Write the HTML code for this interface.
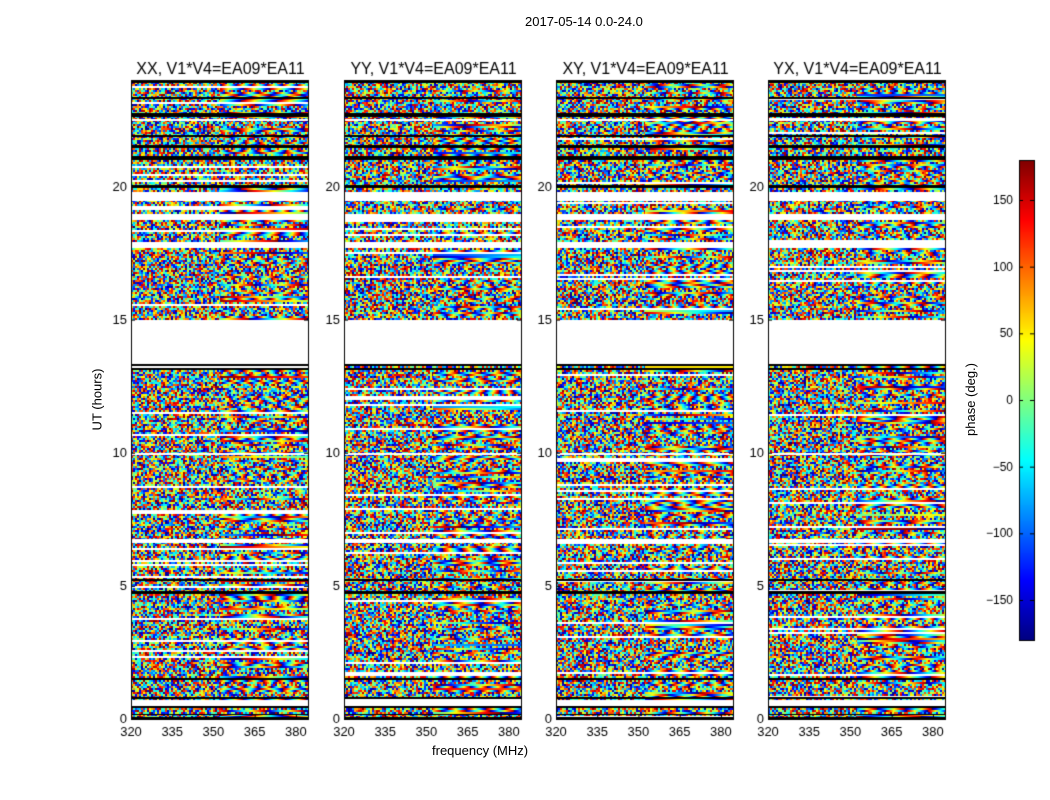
<!DOCTYPE html>
<html><head><meta charset="utf-8"><style>
body{margin:0;background:#fff;font-family:"Liberation Sans",sans-serif;}
#wrap{position:relative;width:1050px;height:800px;overflow:hidden;}
.t{position:absolute;font-size:13px;color:#000;white-space:nowrap;}
canvas{position:absolute;}
</style></head><body>
<div id="wrap">
<div class="t" style="left:525px;top:14px">2017-05-14 0.0-24.0</div>
<div class="t" style="left:432px;top:743px">frequency (MHz)</div>
<div class="t" style="left:66px;top:392px;transform:rotate(-90deg);transform-origin:center">UT (hours)</div>
<div class="t" style="left:934px;top:392px;transform:rotate(-90deg)">phase (deg.)</div>
<canvas id="cv" width="1050" height="800"></canvas>
</div>
<script>
const panelTitles=["XX, V1*V4=EA09*EA11","YY, V1*V4=EA09*EA11","XY, V1*V4=EA09*EA11","YX, V1*V4=EA09*EA11"];
const panelLefts=[131,344,556,768];
const xTicks=[320,335,350,365,380];
const yTicks=[0,5,10,15,20];
const cbTicks=[150,100,50,0,-50,-100,-150];
const whiteBands=[[0.5,0.72],[6.6,6.75],[9.9,10.0],[13.35,15.0],[17.7,17.9],[18.75,18.95],[19.45,19.8],[22.45,22.55]];
const blackBands=[[0,0.06],[0.14,0.2],[0.42,0.48],[0.76,0.82],[1.48,1.55],[4.7,4.82],[5.18,5.25],[13.12,13.2],[13.27,13.33],[19.95,20.05],[21.0,21.15],[21.45,21.55],[21.85,21.95],[22.6,22.75],[23.3,23.35],[23.9,24]];
const W=177,T=80,B=719,F0=320,F1=384.4,H0=0,H1=24;
const yS=h=>B-(h-H0)/(H1-H0)*(B-T);
const ctx=document.getElementById('cv').getContext('2d');
function jet(v){let r=Math.min(4*v-1.5,-4*v+4.5),g=Math.min(4*v-0.5,-4*v+3.5),b=Math.min(4*v+0.5,-4*v+2.5);
const c=x=>Math.round(255*Math.max(0,Math.min(1,x)));return[c(r),c(g),c(b)];}
function hash(a,b,c){let h=(a*374761393+b*668265263+c*2147483647)|0;h=(h^(h>>>13))*1274126177|0;return((h^(h>>>16))>>>0)/4294967295;}
function inB(h,arr){return arr.some(b=>h>=b[0]&&h<b[1]);}
panelLefts.forEach((L,p)=>{
  const img=ctx.createImageData(W,B-T);
  const rowH=2,colW=2;
  for(let py=0;py<B-T;py++){
    const h=H1-(py+0.5)/(B-T)*(H1-H0);const ri=Math.floor(py/rowH);
    let typ=inB(h,blackBands)?'k':inB(h,whiteBands)?'w':(hash(ri,7,p)<0.07?'w':'n');
    const base=hash(ri,3,p),slope=(hash(ri,5,p)-0.5)*0.15;
    for(let px=0;px<W;px++){
      let c;
      if(typ=='k')c=[0,0,0];else if(typ=='w')c=[255,255,255];
      else{const ci=Math.floor(px/colW);let v;
        if(px>W*0.5&&hash(ri,9,p)<0.4){v=(base+slope*px)%1;if(v<0)v+=1;}
        else v=hash(ci*31+p,ri*17+3,p+11);
        c=jet(v);}
      const k=(py*W+px)*4;img.data[k]=c[0];img.data[k+1]=c[1];img.data[k+2]=c[2];img.data[k+3]=255;
    }
  }
  ctx.putImageData(img,L,T);
  ctx.strokeStyle='#000';ctx.lineWidth=1;ctx.strokeRect(L+0.5,T+0.5,W,B-T);
  ctx.fillStyle='#000';ctx.font='16px "Liberation Sans",sans-serif';ctx.textAlign='center';
  ctx.fillText(panelTitles[p],L+W/2+1,74);
  ctx.font='13px "Liberation Sans",sans-serif';
  xTicks.forEach(f=>{const x=L+(f-F0)/(F1-F0)*W;ctx.fillText(f,x,736);
    ctx.beginPath();ctx.moveTo(x+0.5,B);ctx.lineTo(x+0.5,B-4);ctx.moveTo(x+0.5,T);ctx.lineTo(x+0.5,T+4);ctx.stroke();});
  ctx.textAlign='right';
  yTicks.forEach(t=>{const y=yS(t);ctx.fillText(t,L-4,y+4);
    ctx.beginPath();ctx.moveTo(L,y+0.5);ctx.lineTo(L+4,y+0.5);ctx.moveTo(L+W,y+0.5);ctx.lineTo(L+W-4,y+0.5);ctx.stroke();});
});
// colorbar
const CX=1019,CW=15,CT=160,CB=640;
for(let y=CT;y<CB;y++){const c=jet(1-(y-CT)/(CB-CT));ctx.fillStyle=`rgb(${c})`;ctx.fillRect(CX,y,CW,1);}
ctx.strokeStyle='#000';ctx.strokeRect(CX+0.5,CT+0.5,CW,CB-CT);
ctx.fillStyle='#000';ctx.textAlign='right';ctx.font='12px "Liberation Sans",sans-serif';
cbTicks.forEach(t=>{const y=CB-(t+180)/360*(CB-CT);ctx.fillText(String(t).replace('-','\u2212'),1013,y+4);
  ctx.beginPath();ctx.moveTo(CX,y+0.5);ctx.lineTo(CX+4,y+0.5);ctx.moveTo(CX+CW,y+0.5);ctx.lineTo(CX+CW-4,y+0.5);ctx.stroke();});
</script>
</body></html>
